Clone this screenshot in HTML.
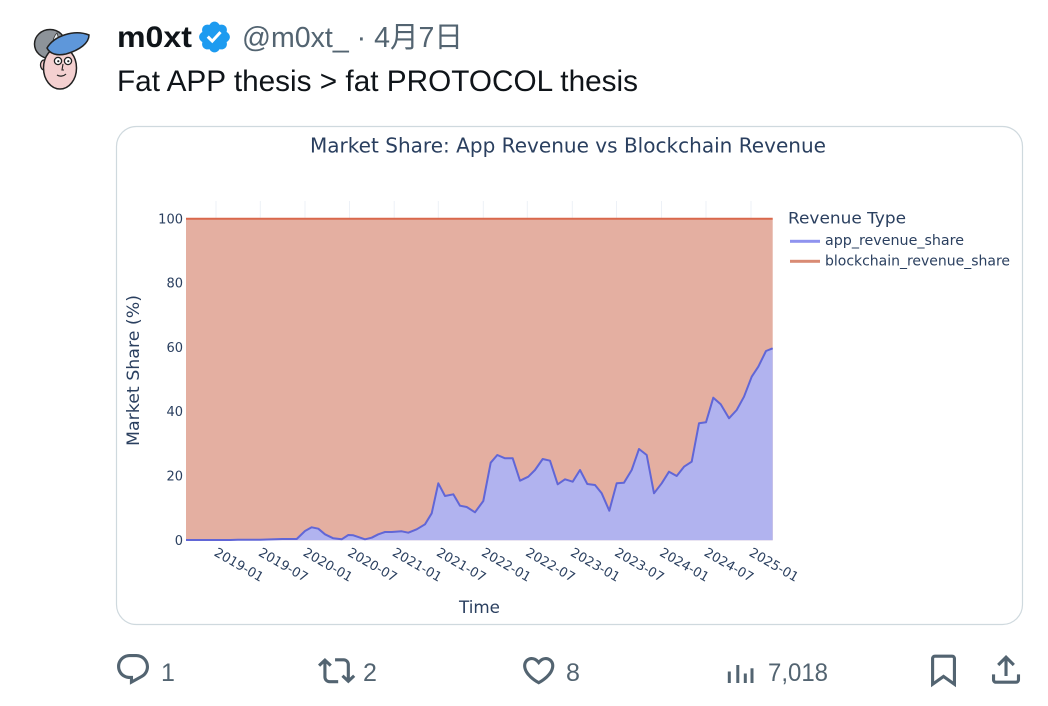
<!DOCTYPE html>
<html>
<head>
<meta charset="utf-8">
<style>
  html, body { margin: 0; padding: 0; background: #ffffff; }
  body { width: 1048px; height: 706px; overflow: hidden; }
  svg { display: block; }
  .ui { font-family: "Liberation Sans", "Noto Sans CJK JP", sans-serif; }
  .ch { font-family: "DejaVu Sans", "Liberation Sans", sans-serif; fill: #2a3f5f; }
</style>
</head>
<body>
<svg width="1048" height="706" viewBox="0 0 1048 706" xmlns="http://www.w3.org/2000/svg">
  <rect x="0" y="0" width="1048" height="706" fill="#ffffff"/>

  <!-- Avatar -->
  <g>
    <ellipse cx="50" cy="44" rx="15.5" ry="14.5" fill="#8d9399" stroke="#222" stroke-width="1.5"/>
    <path d="M53 41 C54 36, 56 34, 57 33 C58 36, 59 39, 57 42 Z" fill="#e8eef2" stroke="#333" stroke-width="0.8"/>
    <ellipse cx="44" cy="65" rx="3.5" ry="5" fill="#f1c6c6" stroke="#222" stroke-width="1.3"/>
    <ellipse cx="60" cy="68" rx="16.5" ry="21" fill="#f4d0d0" stroke="#222" stroke-width="1.5"/>
    <path d="M47 48 C54 36, 74 29, 89 35 C89 43, 80 50, 66 54 C57 56, 50 54, 47 48 Z" fill="#5e97da" stroke="#222" stroke-width="1.5"/>
    <circle cx="58" cy="61" r="3.6" fill="#fff" stroke="#222" stroke-width="1.3"/>
    <circle cx="68" cy="61" r="3.6" fill="#fff" stroke="#222" stroke-width="1.3"/>
    <circle cx="58.3" cy="61.2" r="1.1" fill="#222"/>
    <circle cx="68.3" cy="61.2" r="1.1" fill="#222"/>
    <path d="M63 64 L62 70 L64 70" fill="none" stroke="#222" stroke-width="1.1"/>
    <path d="M57 75 C60 77, 64 76, 66 74" fill="none" stroke="#222" stroke-width="1.2"/>
  </g>

  <!-- Header -->
  <text class="ui" x="117" y="47" font-size="30" font-weight="bold" fill="#0f1419" textLength="75" lengthAdjust="spacingAndGlyphs">m0xt</text>
  <g transform="translate(196.5,19) scale(1.5)">
    <path fill="#1d9bf0" d="M22.25 12c0-1.43-.88-2.67-2.19-3.34.46-1.39.2-2.89-.81-3.91s-2.52-1.27-3.91-.81c-.66-1.31-1.910-2.19-3.34-2.19s-2.67.88-3.33 2.19c-1.4-.46-2.91-.2-3.92.81s-1.26 2.52-.8 3.910c-1.31.67-2.2 1.91-2.2 3.34s.89 2.67 2.2 3.34c-.46 1.39-.21 2.9.8 3.91s2.52 1.26 3.91.81c.67 1.31 1.91 2.19 3.34 2.19s2.68-.88 3.34-2.19c1.39.45 2.9.2 3.91-.81s1.27-2.52.81-3.91c1.31-.67 2.19-1.91 2.19-3.34zm-11.71 4.2L6.8 12.46l1.41-1.42 2.26 2.26 4.8-5.23 1.47 1.36-6.2 6.77z"/>
  </g>
  <text class="ui" x="242" y="47" font-size="29" fill="#536471" textLength="221" lengthAdjust="spacingAndGlyphs">@m0xt_ · 4月7日</text>
  <text class="ui" x="117" y="91" font-size="30" fill="#0f1419" textLength="521" lengthAdjust="spacingAndGlyphs">Fat APP thesis &gt; fat PROTOCOL thesis</text>

  <!-- Card -->
  <rect x="116.5" y="126.5" width="906" height="498" rx="20" ry="20" fill="#ffffff" stroke="#cfd9de" stroke-width="1.2"/>

  <!-- Chart title -->
  <text class="ch" x="310" y="152.5" font-size="20.5" textLength="516" lengthAdjust="spacingAndGlyphs">Market Share: App Revenue vs Blockchain Revenue</text>

  <!-- faint gridlines above plot -->
  <g stroke="#edf1f7" stroke-width="1">
    <line x1="216" y1="201" x2="216" y2="218"/>
    <line x1="260.3" y1="201" x2="260.3" y2="218"/>
    <line x1="305" y1="201" x2="305" y2="218"/>
    <line x1="349.5" y1="201" x2="349.5" y2="218"/>
    <line x1="394.2" y1="201" x2="394.2" y2="218"/>
    <line x1="438.3" y1="201" x2="438.3" y2="218"/>
    <line x1="483.3" y1="201" x2="483.3" y2="218"/>
    <line x1="527.3" y1="201" x2="527.3" y2="218"/>
    <line x1="572.3" y1="201" x2="572.3" y2="218"/>
    <line x1="616.5" y1="201" x2="616.5" y2="218"/>
    <line x1="661.5" y1="201" x2="661.5" y2="218"/>
    <line x1="706" y1="201" x2="706" y2="218"/>
    <line x1="751" y1="201" x2="751" y2="218"/>
  </g>

  <!-- Blockchain area (full) -->
  <rect x="186" y="218.7" width="586.7" height="321.5" fill="#e4afa1"/>

  <!-- App area -->
  <path fill="#b1b3ef" d="M186,540.2 L193.4,540 L200.8,540 L208.2,540 L215.6,540 L223,540 L230.4,540 L237.8,539.8 L245.2,539.8 L252.6,539.7 L260,539.7 L267.4,539.5 L274.8,539.3 L282.2,539 L289.6,539 L296.7,539 L305,531 L311.7,527.3 L318.3,528.7 L325,534.3 L333.3,538.3 L341.7,539.3 L348.3,535 L353.3,535.3 L365,539.3 L371.7,537.7 L378.3,534.3 L385,532 L391.7,532 L401.7,531.3 L408.3,532.7 L416.7,529.3 L425,524.3 L431.7,513.3 L438.3,483.3 L445,496 L453.3,494.3 L460,505.7 L466.7,507 L475,512.3 L483.3,501 L490.7,462.7 L497.3,455 L505,458.3 L512.7,458.3 L520,480.7 L528.3,476.7 L535,470 L542.7,459 L550,460.7 L557.7,484.3 L565,479.3 L572.7,481.7 L580,470 L587.3,484 L595,485 L601.7,493.3 L609.3,510.7 L616.7,483.3 L624,482.7 L631.7,470 L639,449 L646.7,455 L654,493.3 L661.7,483.3 L669,471.7 L676.7,476 L684,466.7 L691.7,461.7 L699,423.3 L706,422.3 L713.3,397.7 L720.7,404.3 L729,418.3 L736.7,410 L744,396.7 L751.7,376.7 L758.3,366.7 L766,351 L772.7,348.3 L772.7,540.2 Z"/>

  <!-- App line -->
  <path fill="none" stroke="#6166d6" stroke-width="2" stroke-linejoin="round" d="M186,540 L193.4,540 L200.8,540 L208.2,540 L215.6,540 L223,540 L230.4,540 L237.8,539.8 L245.2,539.8 L252.6,539.7 L260,539.7 L267.4,539.5 L274.8,539.3 L282.2,539 L289.6,539 L296.7,539 L305,531 L311.7,527.3 L318.3,528.7 L325,534.3 L333.3,538.3 L341.7,539.3 L348.3,535 L353.3,535.3 L365,539.3 L371.7,537.7 L378.3,534.3 L385,532 L391.7,532 L401.7,531.3 L408.3,532.7 L416.7,529.3 L425,524.3 L431.7,513.3 L438.3,483.3 L445,496 L453.3,494.3 L460,505.7 L466.7,507 L475,512.3 L483.3,501 L490.7,462.7 L497.3,455 L505,458.3 L512.7,458.3 L520,480.7 L528.3,476.7 L535,470 L542.7,459 L550,460.7 L557.7,484.3 L565,479.3 L572.7,481.7 L580,470 L587.3,484 L595,485 L601.7,493.3 L609.3,510.7 L616.7,483.3 L624,482.7 L631.7,470 L639,449 L646.7,455 L654,493.3 L661.7,483.3 L669,471.7 L676.7,476 L684,466.7 L691.7,461.7 L699,423.3 L706,422.3 L713.3,397.7 L720.7,404.3 L729,418.3 L736.7,410 L744,396.7 L751.7,376.7 L758.3,366.7 L766,351 L772.7,348.3"/>

  <!-- Blockchain top line -->
  <line x1="186" y1="218.7" x2="772.7" y2="218.7" stroke="#d9684c" stroke-width="2"/>

  <!-- Y ticks -->
  <g class="ch" font-size="13" text-anchor="end">
    <text x="183" y="223.3">100</text>
    <text x="183" y="287.6">80</text>
    <text x="183" y="351.9">60</text>
    <text x="183" y="416.2">40</text>
    <text x="183" y="480.5">20</text>
    <text x="183" y="544.8">0</text>
  </g>

  <!-- Y title -->
  <text class="ch" font-size="16.5" text-anchor="middle" transform="translate(139,370.5) rotate(-90)" textLength="151" lengthAdjust="spacingAndGlyphs">Market Share (%)</text>

  <!-- X ticks -->
  <g class="ch" font-size="13">
    <text transform="translate(213.3,555) rotate(30)">2019-01</text>
    <text transform="translate(257.6,555) rotate(30)">2019-07</text>
    <text transform="translate(302.3,555) rotate(30)">2020-01</text>
    <text transform="translate(346.8,555) rotate(30)">2020-07</text>
    <text transform="translate(391.5,555) rotate(30)">2021-01</text>
    <text transform="translate(435.6,555) rotate(30)">2021-07</text>
    <text transform="translate(480.6,555) rotate(30)">2022-01</text>
    <text transform="translate(524.8,555) rotate(30)">2022-07</text>
    <text transform="translate(569.6,555) rotate(30)">2023-01</text>
    <text transform="translate(613.8,555) rotate(30)">2023-07</text>
    <text transform="translate(658.8,555) rotate(30)">2024-01</text>
    <text transform="translate(703.3,555) rotate(30)">2024-07</text>
    <text transform="translate(748.3,555) rotate(30)">2025-01</text>
  </g>

  <!-- X title -->
  <text class="ch" x="459" y="613" font-size="16.5" textLength="41" lengthAdjust="spacingAndGlyphs">Time</text>

  <!-- Legend -->
  <text class="ch" x="788" y="223.5" font-size="16" textLength="118" lengthAdjust="spacingAndGlyphs">Revenue Type</text>
  <rect x="790" y="239.8" width="30" height="3" fill="#8f93ef"/>
  <text class="ch" x="825" y="245" font-size="14" textLength="139" lengthAdjust="spacingAndGlyphs">app_revenue_share</text>
  <rect x="790" y="259.8" width="30" height="3" fill="#d98b74"/>
  <text class="ch" x="825" y="265.5" font-size="14" textLength="185" lengthAdjust="spacingAndGlyphs">blockchain_revenue_share</text>

  <!-- Action bar -->
  <g fill="#536471">
    <g transform="translate(114.3,650.9) scale(1.56)">
      <path d="M1.751 10c0-4.42 3.584-8 8.005-8h4.366c4.49 0 8.129 3.64 8.129 8.13 0 2.96-1.607 5.68-4.196 7.11l-8.054 4.46v-3.69h-.067c-4.49.1-8.183-3.51-8.183-8.01zm8.005-6c-3.317 0-6.005 2.690-6.005 6 0 3.37 2.77 6.08 6.138 6.01l.351-.01h1.761v2.3l5.087-2.81c1.951-1.08 3.163-3.13 3.163-5.36 0-3.39-2.744-6.13-6.129-6.13H9.756z"/>
    </g>
    <g transform="translate(317.9,652) scale(1.56)">
      <path d="M4.5 3.88l4.432 4.14-1.364 1.46L5.5 7.55V16c0 1.1.896 2 2 2H13v2H7.5c-2.209 0-4-1.79-4-4V7.55L1.432 9.48.068 8.02 4.5 3.88zM16.5 6H11V4h5.5c2.209 0 4 1.79 4 4v8.45l2.068-1.93 1.364 1.46-4.432 4.14-4.432-4.14 1.364-1.46 2.068 1.93V8c0-1.1-.896-2-2-2z"/>
    </g>
    <g transform="translate(520,651.5) scale(1.56)">
      <path d="M16.697 5.5c-1.222-.06-2.679.51-3.89 2.16l-.805 1.09-.806-1.09C9.984 6.01 8.526 5.44 7.304 5.5c-1.243.07-2.349.78-2.91 1.910-.552 1.12-.633 2.78.479 4.82 1.074 1.97 3.257 4.270 7.129 6.61 3.87-2.34 6.052-4.64 7.126-6.61 1.111-2.04 1.03-3.7.477-4.82-.561-1.13-1.666-1.84-2.908-1.91zm4.187 7.69c-1.351 2.48-4.001 5.12-8.379 7.67l-.503.3-.504-.3c-4.379-2.55-7.029-5.19-8.382-7.67-1.36-2.5-1.41-4.86-.514-6.67.887-1.79 2.647-2.91 4.601-3.01 1.651-.09 3.368.56 4.798 2.01 1.429-1.45 3.146-2.1 4.796-2.01 1.954.1 3.714 1.22 4.601 3.01.896 1.81.846 4.17-.514 6.67z"/>
    </g>
    <rect x="727.8" y="671.5" width="3" height="11.5"/>
    <rect x="736.3" y="665" width="3" height="18"/>
    <rect x="743.8" y="673.5" width="3" height="9.5"/>
    <rect x="750.5" y="668.3" width="3" height="14.7"/>
    <g transform="translate(924.8,651.5) scale(1.56)">
      <path d="M4 4.5C4 3.12 5.119 2 6.5 2h11C18.881 2 20 3.12 20 4.5v18.44l-8-5.71-8 5.71V4.5zM6.5 4c-.276 0-.5.22-.5.5v14.56l6-4.29 6 4.29V4.5c0-.28-.224-.5-.5-.5h-11z"/>
    </g>
    <g transform="translate(987.3,651) scale(1.56)">
      <path d="M12 2.59l5.7 5.7-1.41 1.42L13 6.41V16h-2V6.41l-3.3 3.3-1.41-1.42L12 2.59zM21 15l-.02 3.51c0 1.38-1.12 2.49-2.5 2.49H5.5C4.11 21 3 19.88 3 18.5V15h2v3.5c0 .28.22.5.5.5h12.98c.28 0 .5-.22.5-.5L19 15h2z"/>
    </g>
  </g>
  <g class="ui" font-size="25" fill="#536471">
    <text x="161" y="681">1</text>
    <text x="363" y="681">2</text>
    <text x="566" y="681">8</text>
    <text x="768" y="681" textLength="60" lengthAdjust="spacingAndGlyphs">7,018</text>
  </g>
</svg>
</body>
</html>
